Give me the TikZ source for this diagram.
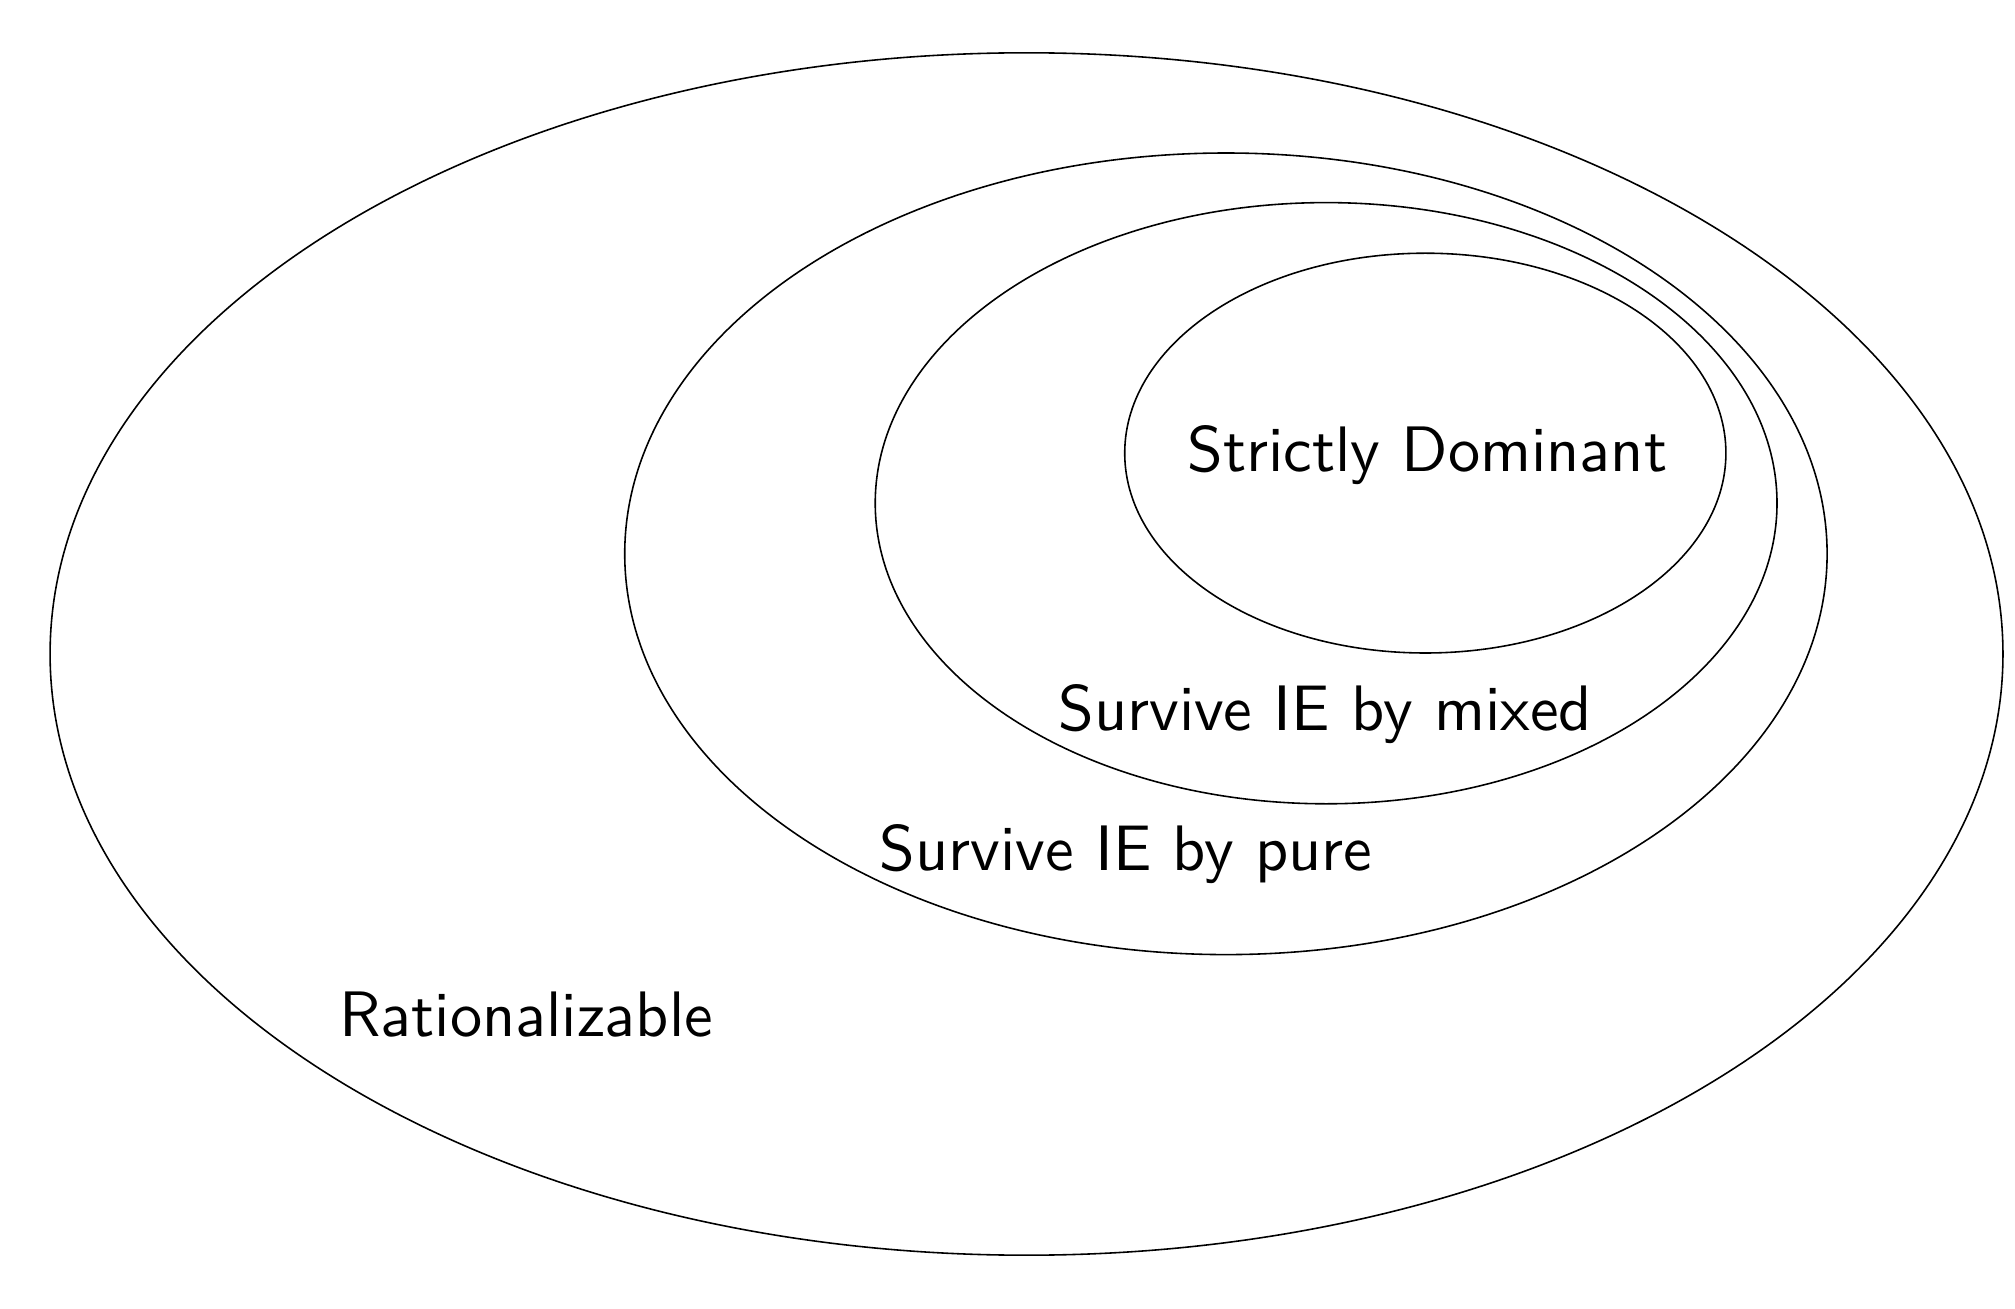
\documentclass[tikz,border=0pt]{standalone}
\usepackage{fontspec}
\newfontfamily\lmsten{lmsans10-regular.otf}
\begin{document}
\begin{tikzpicture}[
  setline/.style={line width=0.45pt, draw=black},
  setlabel/.style={font=\lmsten\fontsize{18.25}{22}\selectfont, anchor=base, inner sep=0pt}
]
\useasboundingbox (-10.245,-6.537) rectangle (9.865,6.527);
\draw[setline] (0,0) ellipse [x radius=9.745, y radius=6.0];
\draw[setline] (1.99,1.0) ellipse [x radius=6.0, y radius=4.0];
\draw[setline] (2.99,1.505) ellipse [x radius=4.5, y radius=3.0];
\draw[setline] (3.98,2.005) ellipse [x radius=3.0, y radius=1.995];
\node[setlabel] (sd) at (4.0,1.82) {Strictly Dominant};
\node[setlabel] (mixed) at (2.98,-0.768) {Survive IE by mixed};
\node[setlabel] (pure) at (0.993,-2.156) {Survive IE by pure};
\node[setlabel] (rat) at (-4.995,-3.82) {Rationalizable};
\end{tikzpicture}
\end{document}
